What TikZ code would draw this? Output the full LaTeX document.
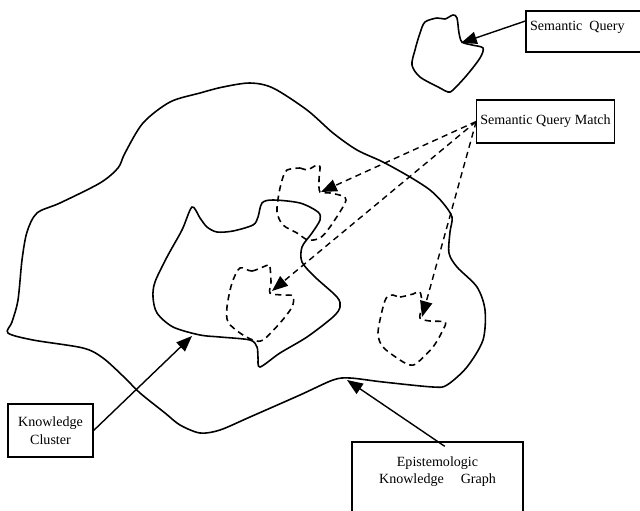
\documentclass[tikz,border=0pt]{standalone}
\usepackage{fontspec}
\setmainfont{Liberation Serif}
\usetikzlibrary{arrows.meta}
\begin{document}
\begin{tikzpicture}[x=0.02cm,y=-0.02cm,font=\fontsize{8}{10}\selectfont,
  box/.style={draw,line width=0.7pt,inner sep=2pt},
  blob/.style={line width=0.9pt},
  dblob/.style={line width=0.9pt,dash pattern=on 3.5pt off 2.5pt},
  tip/.style={-{Triangle[length=9pt,width=7pt]},line width=0.8pt},
  dtip/.style={tip,dash pattern=on 3.5pt off 2.5pt}]
  \useasboundingbox (0,0) rectangle (640,511);
  \node[box,minimum width=2.6cm,minimum height=0.82cm,
    label={[anchor=north west,inner sep=2.5pt,yshift=-3.5pt]north west:Semantic\ \ Query}] (Q) at (591,31.5) {};
  \node[box,minimum width=2.58cm,minimum height=0.86cm] (M) at (545.5,121.5) {Semantic Query Match};
  \node[box,minimum width=1.7cm,minimum height=1.06cm,align=center] (C) at (50.5,430.5) {Knowledge\\Cluster};
  \node[box,minimum width=3.42cm,minimum height=1.56cm,
    label={[anchor=north,align=center,yshift=-5pt]north:Epistemologic\\Knowledge\hspace{1.2em}Graph}] (G) at (437.5,481) {};
  \draw[blob] plot[smooth cycle] coordinates {(8,333) (12,322) (18,300) (22,260) (27,232) (37,213)
    (60,203) (100,183) (118,168) (125,153) (143,123) (170,102) (200,93) (223,87) (250,83)
    (273,88) (307,110) (333,133) (357,150) (383,162) (410,177) (430,190) (443,203) (452,217)
    (450,232) (449,253) (457,267) (477,287) (485,310) (483,340) (467,367) (447,385) (433,387)
    (383,382) (350,378) (333,380) (300,395) (250,417) (220,430) (200,433) (180,425) (165,413)
    (140,393) (125,378) (103,358) (83,348) (33,340)};
  \draw[blob] plot[smooth cycle] coordinates {(192,207) (200,218) (207,227) (217,232) (233,231)
    (253,225) (258,217) (262,203) (273,200) (300,203) (318,212) (320,220) (312,233) (302,247)
    (302,262) (315,277) (337,297) (340,307) (333,317) (307,337) (280,353) (260,367) (258,357)
    (257,347) (250,340) (220,337) (200,335) (173,327) (157,313) (153,297) (155,282) (167,257)
    (182,230)};
  \draw[blob] plot[smooth cycle] coordinates {(425,22) (437,18) (445,19) (453,15) (457,18) (459,33)
    (462,42) (472,45) (483,48) (480,58) (467,75) (453,90) (448,92) (440,88) (420,77) (412,65)
    (415,50) (420,33)};
  \draw[dblob] plot[smooth cycle] coordinates {(287,170) (300,168) (307,170) (317,165) (320,167)
    (319,180) (320,192) (330,193) (345,197) (344,205) (330,227) (320,238) (308,240) (297,233)
    (283,225) (277,212) (279,193) (283,177)};
  \draw[dblob] plot[smooth cycle] coordinates {(240,268) (252,271) (268,265) (270,267) (271,282)
    (270,293) (282,295) (293,296) (292,307) (280,323) (263,340) (253,340) (240,333) (228,322)
    (227,307) (232,283)};
  \draw[dblob] plot[smooth cycle] coordinates {(393,295) (400,297) (413,294) (420,292) (422,305)
    (420,318) (430,321) (445,322) (443,330) (433,347) (417,363) (410,365) (400,360) (383,347)
    (378,333) (383,307) (387,297)};
  \coordinate (qt) at (461,43);
  \coordinate (m1) at (321,192);
  \coordinate (m2) at (272,291);
  \coordinate (m3) at (422,317);
  \coordinate (ct) at (192,336);
  \coordinate (gt) at (347,380);
  \draw[tip] (Q.west |- 0,21) -- (qt);
  \draw[dtip] (M.west) -- (m1);
  \draw[dtip] (M.west) -- (m2);
  \draw[dtip] (M.west) -- (m3);
  \draw[tip] (C.east) -- (ct);
  \draw[tip,shorten <=-5pt] (G.north) -- (gt);
\end{tikzpicture}
\end{document}
